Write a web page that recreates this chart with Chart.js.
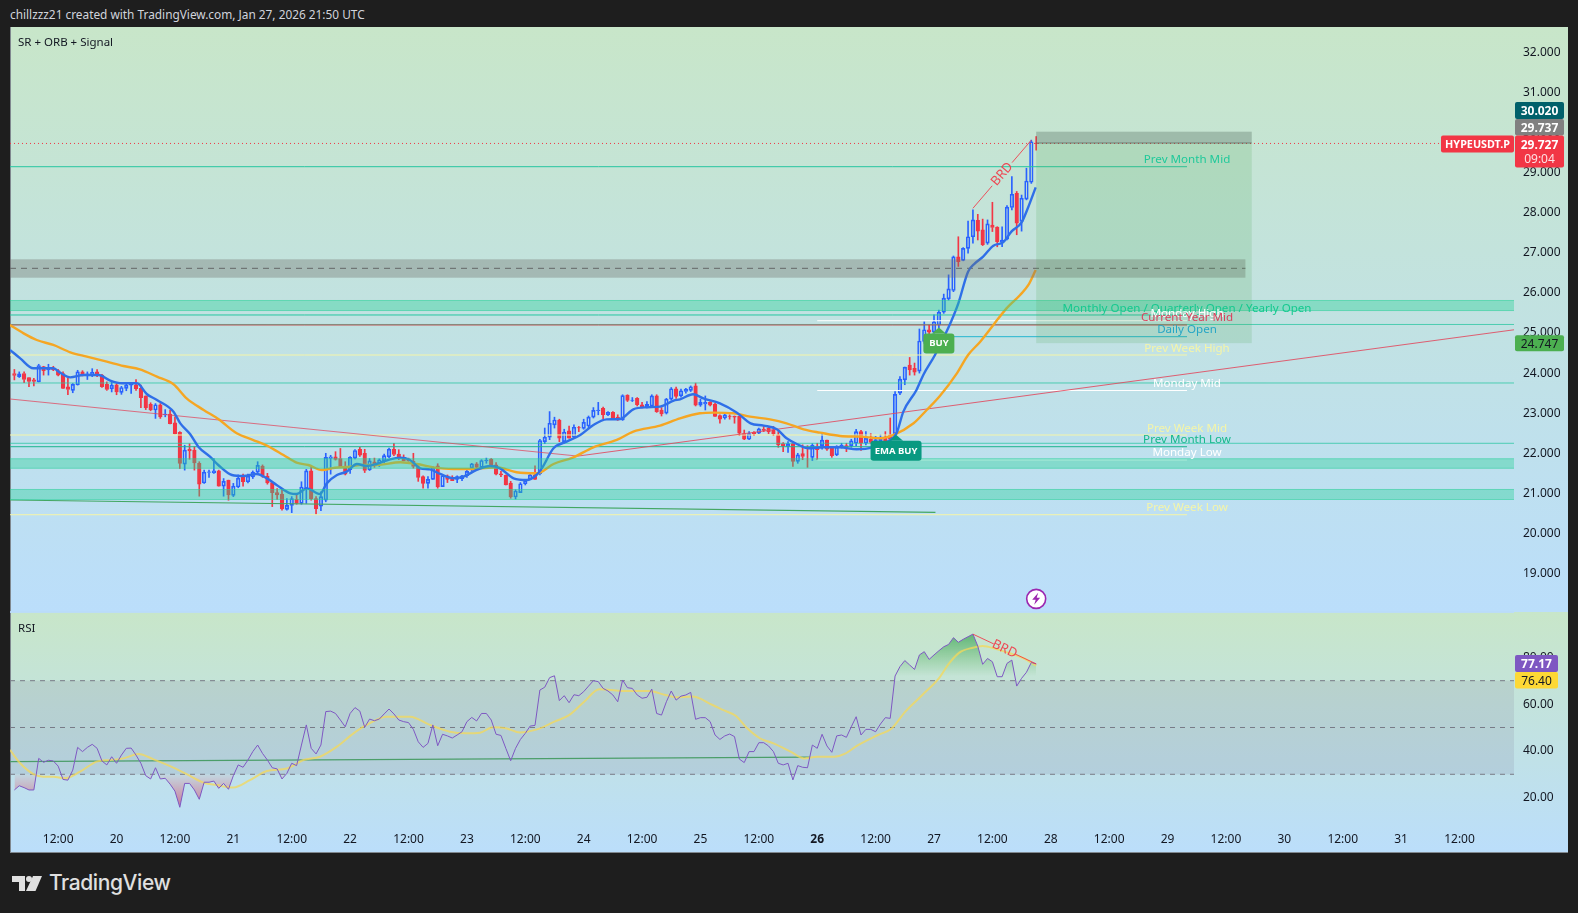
<!DOCTYPE html>
<html>
<head>
<meta charset="utf-8">
<title>HYPEUSDT.P</title>
<script src="https://cdn.jsdelivr.net/npm/chart.js@4"></script>
<style>
  html, body { margin: 0; background: #1e1e1e; overflow: hidden; width: 1578px; height: 913px; }
  #header { position: absolute; left: 10px; top: 6px; font: 11.85px "Noto Sans", sans-serif; color: #d1d4dc; }
  #panel { position: absolute; left: 10px; top: 27px; width: 1558px; height: 826px; background: linear-gradient(#c8e6c9, #bbdefb) 0 0 / 100% 585px no-repeat, linear-gradient(#c8e6c9, #bbdefb) 0 585px / 100% 241px no-repeat; box-shadow: inset 1px 0 #80888f, inset 0 -1px #80888f; }
  #myChart { position: absolute; left: 0; top: 0; }
  #logo { position: absolute; left: 12px; top: 871px; display: flex; align-items: center; color: #e0e0e0; }
  #logo span { font: 500 21px Inter, sans-serif; margin-left: 7px; letter-spacing: -0.4px; position: relative; top: -1px; }
</style>
</head>
<body>
<div id="header">chillzzz21 created with TradingView.com, Jan 27, 2026 21:50 UTC</div>
<div id="panel"><canvas id="myChart" width="1558" height="826"></canvas></div>
<div id="logo">
  <svg width="30" height="15" viewBox="0 0 30 15" fill="#e0e0e0"><path d="M0 0H13V15H7V6H0Z"/><circle cx="17" cy="3" r="3"/><path d="M21 0H30L23.5 15H14Z"/></svg>
  <span>TradingView</span>
</div>
<script>
// hourly candles, hour 0 = Jan 20 00:00 UTC
const firstHour = -21;
const opens = [
  23.99,23.91,23.99,23.89,23.83,23.78,24.16,24.08,24.13,24.06,
  23.99,23.66,23.57,23.71,24.03,23.93,23.97,24.03,23.95,23.72,
  23.61,23.71,23.52,23.62,23.70,23.70,23.62,23.43,23.22,23.08,
  23.21,22.96,22.98,22.76,22.52,21.73,22.10,22.08,21.75,21.26,
  21.52,21.51,21.56,21.18,21.33,20.95,21.16,21.41,21.29,21.41,
  21.53,21.68,21.43,21.27,21.02,20.98,20.60,20.70,20.85,20.75,
  21.12,21.56,20.87,20.68,20.83,21.87,21.91,21.87,21.66,21.59,
  21.88,22.10,22.00,21.59,21.79,21.75,21.81,21.91,22.10,21.98,
  21.89,21.86,21.80,21.67,21.42,21.25,21.35,21.69,21.17,21.44,
  21.40,21.35,21.37,21.44,21.63,21.74,21.65,21.81,21.85,21.71,
  21.49,21.45,21.26,20.91,21.02,21.24,21.35,21.46,21.49,22.29,
  22.40,22.71,22.83,22.29,22.56,22.40,22.64,22.62,22.68,22.90,
  23.06,23.12,22.96,23.02,22.90,22.83,23.45,23.32,23.37,23.21,
  23.15,23.18,23.43,23.08,23.00,23.35,23.61,23.43,23.54,23.57,
  23.68,23.20,23.23,23.27,23.22,22.94,22.88,22.93,22.92,22.92,
  22.49,22.35,22.52,22.50,22.60,22.62,22.58,22.46,22.24,22.17,
  22.24,21.80,21.99,22.15,21.90,22.15,22.19,22.33,22.13,21.96,
  22.19,22.19,22.19,22.25,22.54,22.25,22.35,22.27,22.31,22.38,
  22.46,22.49,23.50,23.83,24.20,24.12,24.05,24.79,25.08,25.02,
  25.20,25.52,25.85,26.06,26.90,26.81,27.11,27.40,27.81,27.57,
  27.24,27.69,27.64,27.26,27.34,28.13,28.48,27.78,28.34,28.76,29.737
];
const highs = [
  24.09,24.03,24.03,23.89,23.87,24.22,24.17,24.22,24.17,24.09,
  24.03,23.87,23.74,24.07,24.06,24.03,24.11,24.09,23.97,23.78,
  23.78,23.74,23.67,23.74,23.74,23.84,23.70,23.43,23.26,23.24,
  23.24,23.09,23.08,22.91,22.54,22.20,22.24,22.16,21.79,21.58,
  21.58,21.87,21.58,21.37,21.33,21.25,21.46,21.48,21.48,21.56,
  21.79,21.71,21.50,21.29,21.12,21.10,20.87,20.92,21.00,21.29,
  21.60,21.66,20.92,21.04,22.00,21.95,22.04,22.12,21.79,21.92,
  22.09,22.15,22.10,21.87,21.88,21.86,21.98,22.13,22.25,22.09,
  21.96,21.88,22.00,21.69,21.44,21.42,21.67,21.74,21.46,21.46,
  21.44,21.44,21.45,21.59,21.75,21.77,21.84,21.88,21.87,21.77,
  21.55,21.46,21.30,21.09,21.27,21.35,21.49,21.69,22.35,22.63,
  23.04,22.90,22.85,22.60,22.68,22.71,22.67,22.85,22.93,23.14,
  23.27,23.15,23.04,23.04,22.96,23.46,23.46,23.39,23.39,23.27,
  23.29,23.46,23.46,23.14,23.37,23.64,23.65,23.60,23.62,23.68,
  23.75,23.35,23.43,23.29,23.25,22.96,22.98,22.96,22.93,22.93,
  22.58,22.54,22.54,22.63,22.67,22.67,22.67,22.54,22.27,22.29,
  22.25,22.00,22.21,22.19,22.24,22.25,22.49,22.33,22.15,22.19,
  22.25,22.25,22.35,22.60,22.57,22.54,22.49,22.42,22.46,22.54,
  22.88,23.54,23.91,24.15,24.39,24.25,25.10,25.28,25.20,25.45,
  25.57,25.97,26.45,26.92,27.40,27.13,27.79,28.07,27.96,27.84,
  27.82,28.26,27.65,27.65,28.18,28.90,28.53,28.44,29.11,29.81,29.90
];
const lows = [
  23.83,23.89,23.76,23.66,23.68,23.78,23.95,23.95,24.06,23.93,
  23.62,23.46,23.51,23.70,23.93,23.84,23.91,23.91,23.64,23.57,
  23.53,23.46,23.47,23.56,23.49,23.57,23.14,23.09,23.06,22.87,
  22.87,22.91,22.73,22.48,21.62,21.58,21.85,21.58,20.93,21.25,
  21.40,21.50,21.18,20.93,20.83,20.92,21.14,21.18,21.26,21.37,
  21.50,21.40,21.23,20.67,20.85,20.58,20.58,20.52,20.73,20.73,
  20.75,20.83,20.48,20.57,20.79,21.48,21.83,21.65,21.46,21.50,
  21.86,21.92,21.52,21.57,21.65,21.67,21.77,21.89,21.94,21.84,
  21.81,21.80,21.63,21.30,21.13,21.13,21.35,21.13,21.17,21.27,
  21.32,21.27,21.32,21.40,21.55,21.63,21.63,21.75,21.69,21.46,
  21.42,21.21,20.88,20.86,21.02,21.21,21.34,21.35,21.46,22.24,
  22.34,22.63,22.29,22.25,22.38,22.38,22.54,22.60,22.63,22.88,
  22.96,22.85,22.94,22.85,22.82,22.82,23.29,23.29,23.18,23.13,
  23.13,23.17,23.02,22.93,22.98,23.33,23.37,23.40,23.50,23.54,
  23.18,23.17,23.08,23.18,22.92,22.75,22.85,22.85,22.75,22.44,
  22.34,22.34,22.44,22.49,22.54,22.49,22.44,22.15,22.04,22.02,
  21.67,21.75,21.84,21.65,21.82,21.84,22.10,22.07,21.90,21.94,
  22.13,22.04,22.15,22.19,22.07,22.21,22.25,22.25,22.29,22.29,
  22.34,22.46,23.46,23.71,23.95,23.95,24.00,24.74,24.95,24.99,
  25.12,25.49,25.82,26.03,26.66,26.80,26.99,27.24,27.32,27.18,
  27.21,27.53,27.15,27.15,27.32,28.07,27.45,27.54,28.32,28.73,29.56
];
const closes = [
  23.94,23.98,23.84,23.79,23.79,24.19,24.06,24.13,24.08,23.95,
  23.62,23.59,23.72,24.03,23.93,23.98,24.02,23.95,23.66,23.59,
  23.70,23.53,23.64,23.70,23.72,23.61,23.39,23.14,23.08,23.21,
  22.91,22.98,22.74,22.49,21.75,22.08,22.06,21.76,21.23,21.53,
  21.54,21.56,21.18,21.30,20.96,21.18,21.38,21.29,21.43,21.53,
  21.70,21.43,21.26,21.02,20.96,20.61,20.70,20.87,20.75,21.16,
  21.56,20.87,20.62,20.92,21.90,21.91,21.85,21.66,21.48,21.90,
  22.07,21.95,21.57,21.81,21.71,21.84,21.94,22.10,21.97,21.87,
  21.81,21.81,21.67,21.40,21.25,21.35,21.65,21.16,21.44,21.35,
  21.32,21.42,21.44,21.55,21.74,21.65,21.82,21.83,21.71,21.48,
  21.46,21.21,20.91,21.06,21.24,21.32,21.46,21.35,22.32,22.40,
  22.75,22.83,22.38,22.53,22.38,22.65,22.63,22.77,22.90,23.07,
  23.08,22.96,23.02,22.88,22.83,23.44,23.32,23.33,23.21,23.14,
  23.22,23.43,23.04,22.98,23.35,23.61,23.42,23.56,23.60,23.66,
  23.20,23.27,23.27,23.20,22.92,22.85,22.96,22.92,22.90,22.50,
  22.35,22.49,22.49,22.61,22.57,22.54,22.49,22.21,22.19,22.24,
  21.80,21.96,21.92,22.13,22.20,22.09,22.33,22.10,21.94,22.15,
  22.20,22.15,22.31,22.54,22.25,22.37,22.27,22.34,22.38,22.31,
  22.35,23.47,23.85,24.15,24.08,24.02,24.80,25.08,25.02,25.28,
  25.52,25.87,26.10,26.90,26.78,27.11,27.40,27.82,27.54,27.20,
  27.72,27.63,27.28,27.32,28.14,28.46,27.74,28.36,28.79,29.77,29.727
];

const fastEmaHours = [-21.9,-19.8,-17.1,-13,-11.6,-9.5,-6.8,-3.7,-1.3,1.1,4.2,6.2,8.3,11.7,13.1,15.1,16.8,19.2,20.9,23.7,26.1,28.8,30.9,32.9,35.7,37,39.1,41.8,43.2,45.3,47.3,49.4,51.4,53.4,56.2,58.3,60.3,62.4,64.4,66.5,69.2,71.3,74,76.8,78.8,81.6,84.3,86.3,87.4,89.8,92.5,95.3,98,100.7,103.5,106.2,109,111.7,114.5,115.8,118.5,120.6,124,127.5,130.3,133,135.7,137.7,139.8,142.2,145.3,148.7,152.1,155.5,159,160.3,161.7,164.4,165.8,168.2,170.9,173,175,176.4,178.1,180.2,182.2,183.9,186,187.4,188.9];
const fastEmaValues = [24.576,24.368,24.119,24.119,24.011,23.894,23.952,23.952,23.811,23.745,23.745,23.479,23.329,23.038,22.747,22.481,22.165,21.916,21.708,21.459,21.434,21.483,21.375,21.21,21.0,20.983,21.126,20.983,21.25,21.458,21.542,21.733,21.684,21.733,21.85,21.891,21.833,21.625,21.6,21.484,21.376,21.418,21.584,21.684,21.625,21.376,21.334,21.459,21.625,22.124,22.29,22.457,22.706,22.847,22.856,23.097,23.147,23.163,23.313,23.346,23.471,23.371,23.246,23.013,22.748,22.69,22.598,22.374,22.232,22.124,22.149,22.149,22.099,22.149,22.332,22.498,23.039,23.579,23.953,24.451,25.116,25.74,26.529,26.737,26.904,27.178,27.261,27.527,27.76,28.15,28.632];
const slowEmaHours = [-21.9,-19.1,-16.4,-13,-9.5,-6.1,-2,1.4,4.8,8.3,11.7,14.4,17.9,20.9,24.7,28.1,30.9,34.3,37,39.4,42.2,44.9,48,50,53.5,58.3,61.7,65.1,69.2,73.3,78.1,82.2,86.4,89.8,93.9,98,102.8,106.2,111.7,115.8,119.9,122.7,126.8,130.2,134.3,137.7,141.2,144.6,148.7,152.8,157,159.7,163.8,166.5,169.2,172.7,175,177.5,180.2,182.9,185.7,187.4,188.9];
const slowEmaValues = [25.199,24.991,24.825,24.701,24.518,24.41,24.285,24.177,24.094,23.911,23.72,23.37,23.08,22.855,22.498,22.331,22.19,21.957,21.766,21.708,21.583,21.641,21.665,21.709,21.709,21.775,21.733,21.65,21.609,21.609,21.65,21.526,21.501,21.733,21.9,22.149,22.332,22.542,22.69,22.871,22.997,23.014,22.997,22.914,22.847,22.748,22.598,22.515,22.432,22.415,22.374,22.457,22.748,23.08,23.429,23.994,24.451,24.784,25.2,25.615,25.948,26.197,26.571];

// one value per candle
const rsiValues = [
  23.3,25.1,24.3,23.3,23.3,36.8,35.1,36.0,35.7,33.5,27.8,27.5,31.8,41.5,39.7,41.5,42.8,41.1,35.7,34.0,
  37.5,34.7,38.2,41.1,41.2,38.2,34.7,29.4,28.0,32.8,28.0,28.3,25.8,22.8,15.9,26.1,26.1,23.3,19.3,26.6,
  26.6,27.1,24.0,26.1,23.6,29.4,34.0,33.0,36.1,39.7,42.5,38.9,36.1,32.8,32.3,28.0,30.4,34.7,33.7,42.5,
  51.1,41.1,38.7,42.5,56.8,57.0,56.0,53.2,50.3,56.0,58.5,57.0,50.1,53.6,52.9,53.6,55.8,57.9,55.8,53.2,
  52.5,52.1,49.2,43.9,41.5,43.2,51.1,42.2,47.1,46.4,45.5,46.8,48.2,52.5,54.3,52.8,56.0,56.0,53.2,47.1,
  46.6,41.1,35.8,41.1,44.9,47.5,50.6,50.9,66.0,67.2,71.3,72.1,61.5,63.6,60.6,64.0,63.6,65.3,67.7,70.0,
  69.6,66.7,65.6,63.9,61.0,70.3,67.0,66.7,63.9,62.5,62.9,66.4,56.0,55.3,61.0,65.6,61.7,63.4,63.9,65.0,
  53.5,54.2,54.2,52.5,46.8,44.9,46.4,47.2,46.1,36.5,35.0,39.7,39.7,43.5,43.5,42.1,39.7,34.7,34.0,34.7,
  27.6,33.7,33.0,32.8,42.5,41.1,47.1,42.1,39.4,46.4,46.8,45.8,50.3,54.6,46.8,49.2,49.2,48.2,51.5,54.2,
  53.9,72.0,76.0,78.6,76.7,74.8,81.0,82.4,79.1,81.0,82.8,84.5,85.5,88.4,86.4,87.7,88.8,89.9,84.8,77.0,
  79.5,78.1,71.7,71.7,77.4,78.8,67.7,71.0,73.6,77.8,77.17
];
const rsiMaHours = [-21.9,-19.8,-17.1,-15,-13,-10.6,-7.5,-4.1,-1.3,1.4,4.5,7.6,11,14.4,17.9,20.6,24,27.4,30.9,35,38.4,41.8,45.3,48.7,51.4,55.5,60.3,64.4,68.5,71.9,74.7,77.4,80.2,82.9,86.4,90,93,96.1,99.2,101.7,104.4,109.3,112.8,114.9,118.3,122.5,124.6,127.3,129.4,132.2,135,138.5,141.3,144,147.5,149.6,152.4,156.5,159.3,162.1,165.6,169,171.1,173.2,176,178,180.8,183.6,186.4,189];
const rsiMaValues = [40.4,34.7,30.1,29.0,29.0,28.3,31.1,35.4,36.1,36.8,38.7,36.4,33.5,30.1,26.4,25.4,24.4,27.5,31.4,32.5,36.1,37.5,41.8,47.5,51.1,54.6,54.6,51.1,48.2,47.5,47.8,50.1,49.6,47.9,49.2,52.5,55.3,61.0,66.3,66.0,65.6,65.6,63.9,62.9,63.2,59.6,57.5,54.9,50.1,45.4,43.2,39.7,36.8,37.5,37.5,38.7,42.5,46.8,49.6,56.8,63.9,71.0,77.4,82.0,84.1,84.8,83.5,81.7,79.6,76.4];
const rsiLevels = [70, 50, 30];

const levelNames = ['Prev Month Mid','Monthly Open / Quarterly Open / Yearly Open','Monday High','Current Year Mid','Daily Open','Prev Week High','Monday Mid','Prev Week Mid','Prev Month Low','Monday Low','Prev Week Low'];
const levelValues = [29.147,25.449,25.306,25.2,24.908,24.451,23.566,22.456,22.164,21.833,20.468];
const levelStartHours = [-21.9,-21.9,144,-21.9,168,-21.9,144,-21.9,-21.9,144,-21.9];
const levelEndHour = 220;
const fullWidthLevels = [25.212,23.753,22.249];
const zoneLows = [25.548,21.616,20.835];
const zoneHighs = [25.823,21.875,21.110];
const greyZone = [26.379,26.613,26.838];
const greyZoneEndHour = 232;

const trendDownHours = [-21.9,94.8];
const trendDownValues = [23.354,21.93];
const trendUpHours = [94.8,287.2];
const trendUpValues = [21.93,25.08];
const supportHours = [-21.9,168.3];
const supportValues = [20.835,20.528];
const rsiSupportHours = [-21.9,142.5];
const rsiSupportValues = [35.4,37.3];

const longBoxHours = [189,233.3];
const longBoxValues = [30.020,29.737,24.747];
const lastPrice = 29.727;

// BRD divergence ends, BUY marks, alert mark
const brdHours = [176,188];
const brdPrices = [28.11,29.81];
const brdRsiHours = [176,189];
const brdRsiValues = [89.9,77.17];
const buyHour = 169, buyValue = 25.14;
const emaBuyHour = 160.2, emaBuyValue = 22.46;
const alertHour = 189, alertValue = 18.37;

const levelColors = ['#1fc99a','#14c98f','#ffffff','#d9405c','#26a6c6','#f5f5a8','#ffffff','#f5f5a8','#14b88c','#ffffff','#f5f5a8'];
const lineColors = ['#26c6a0','#26c6a0','#ffffff','#c2484a','#26b6d0','#f5f5a8','#ffffff','#f5f5a8','#1db48f','#ffffff','#f5f5a8'];
const red = '#f23645', blue = '#2962ff';

const hours = opens.map((_, i) => firstHour + i);
const isUp = opens.map((o, i) => closes[i] >= o);
const path = (xs, ys) => xs.map((x, i) => ({ x, y: ys[i] }));
const flat = (a, b, v) => [{ x: a, y: v }, { x: b, y: v }];
const rsiPoints = hours.map((h, i) => ({ x: h, y: rsiValues[i] }));

function lineSet(data, color, width, extra) {
  return Object.assign({ type: 'line', data, borderColor: color, borderWidth: width, pointRadius: 0, order: 5, yAxisID: 'y' }, extra);
}
function barSet(data, extra) {
  return Object.assign({ type: 'bar', data, grouped: false, borderSkipped: false, order: 20, yAxisID: 'y' }, extra);
}

const datasets = [
  barSet(hours.map((h, i) => ({ x: h, y: [Math.max(opens[i], closes[i]), highs[i]] })), { barThickness: 1, backgroundColor: hours.map((_, i) => isUp[i] ? blue : red) }),
  barSet(hours.map((h, i) => ({ x: h, y: [lows[i], Math.min(opens[i], closes[i])] })), { barThickness: 1, backgroundColor: hours.map((_, i) => isUp[i] ? blue : red) }),
  barSet(hours.map((h, i) => ({ x: h, y: [opens[i], closes[i]] })), {
    barThickness: 3.6, borderWidth: 1,
    backgroundColor: hours.map((_, i) => isUp[i] ? 'rgba(0,0,0,0)' : red),
    borderColor: hours.map((_, i) => isUp[i] ? blue : red)
  }),
  lineSet(path(fastEmaHours, fastEmaValues), '#2f6fe8', 2.4, { cubicInterpolationMode: 'monotone', order: 3 }),
  lineSet(path(slowEmaHours, slowEmaValues), '#f5a623', 2.4, { cubicInterpolationMode: 'monotone', order: 3 }),
  lineSet(path(trendDownHours, trendDownValues), 'rgba(226,70,92,0.75)', 1),
  lineSet(path(trendUpHours, trendUpValues), 'rgba(226,70,92,0.85)', 1),
  lineSet(path(supportHours, supportValues), '#43a763', 1.2),
  lineSet(flat(firstHour - 0.9, 287.2, lastPrice), red, 1, { borderDash: [1, 3] }),
  lineSet(flat(firstHour - 0.9, greyZoneEndHour, greyZone[1]), '#5f6468', 1, { borderDash: [6, 5] })
];
levelValues.forEach((v, i) => datasets.push(lineSet(flat(levelStartHours[i], levelEndHour, v), lineColors[i], 1)));
fullWidthLevels.forEach(v => datasets.push(lineSet(flat(-21.9, 287.2, v), 'rgba(38,198,160,0.75)', 1, { order: 6 })));

// RSI pane
rsiLevels.forEach(v => datasets.push(lineSet(flat(-21.9, 287.2, v), '#787b86', 1, { yAxisID: 'rsi', borderDash: [5, 5] })));
const overbought = lineSet(rsiPoints, 'rgba(0,0,0,0)', 0, { yAxisID: 'rsi', fill: { target: { value: 70 }, above: 'rgba(76,175,80,0.5)', below: 'rgba(0,0,0,0)' }, order: 9 });
const oversold = lineSet(rsiPoints, 'rgba(0,0,0,0)', 0, { yAxisID: 'rsi', fill: { target: { value: 30 }, above: 'rgba(0,0,0,0)', below: 'rgba(242,54,69,0.35)' }, order: 9 });
datasets.push(overbought, oversold);
datasets.push(lineSet(path(rsiMaHours, rsiMaValues), 'rgba(244,216,88,0.75)', 2, { yAxisID: 'rsi', cubicInterpolationMode: 'monotone', order: 2 }));
datasets.push(lineSet(rsiPoints, '#7e57c2', 1, { yAxisID: 'rsi', order: 1 }));
datasets.push(lineSet(path(rsiSupportHours, rsiSupportValues), '#4b9e6a', 1.2, { yAxisID: 'rsi', order: 3 }));

const FONT = '"Noto Sans", sans-serif';

function splitLine(ctx, x0, y0, x1, y1, label, fontSize) {
  const mx = (x0 + x1) / 2, my = (y0 + y1) / 2, gap = 0.17;
  ctx.strokeStyle = 'rgba(242,54,69,0.85)';
  ctx.lineWidth = 1;
  ctx.beginPath();
  ctx.moveTo(x0, y0);
  ctx.lineTo(mx - (x1 - x0) * gap, my - (y1 - y0) * gap);
  ctx.moveTo(mx + (x1 - x0) * gap, my + (y1 - y0) * gap);
  ctx.lineTo(x1, y1);
  ctx.stroke();
  ctx.save();
  ctx.translate(mx, my);
  ctx.rotate(Math.atan2(y1 - y0, x1 - x0));
  ctx.fillStyle = 'rgba(242,54,69,0.9)';
  ctx.font = fontSize + 'px ' + FONT;
  ctx.textAlign = 'center';
  ctx.textBaseline = 'middle';
  ctx.fillText(label, 0, 0);
  ctx.restore();
}

function bubble(ctx, cx, top, w, h, color, text) {
  // up-arrow flag: tip at top, rounded box below
  ctx.fillStyle = color;
  ctx.beginPath();
  ctx.moveTo(cx, top);
  ctx.lineTo(cx + 7, top + 6);
  ctx.lineTo(cx - 7, top + 6);
  ctx.closePath();
  ctx.fill();
  ctx.beginPath();
  ctx.roundRect(cx - w / 2, top + 6, w, h, 3);
  ctx.fill();
  ctx.fillStyle = '#ffffff';
  ctx.font = 'bold 9.5px ' + FONT;
  ctx.textAlign = 'center';
  ctx.textBaseline = 'middle';
  ctx.fillText(text, cx, top + 6 + h / 2);
}

function tag(ctx, text, bg, fg, left, top, w, h, font) {
  ctx.fillStyle = bg;
  ctx.beginPath();
  ctx.roundRect(left, top, w, h, 2);
  ctx.fill();
  ctx.fillStyle = fg;
  ctx.font = (font || '12px') + ' ' + FONT;
  ctx.textAlign = 'center';
  ctx.textBaseline = 'middle';
  ctx.fillText(text, left + w / 2, top + h / 2 + 1);
}

const overlays = {
  id: 'overlays',
  afterLayout(chart) {
    const c = chart.ctx, r = chart.scales.rsi;
    const g = c.createLinearGradient(0, r.getPixelForValue(90), 0, r.getPixelForValue(72));
    g.addColorStop(0, 'rgba(60,165,90,0.75)');
    g.addColorStop(1, 'rgba(76,175,80,0)');
    overbought.fill.above = g;
    const b = c.createLinearGradient(0, r.getPixelForValue(30), 0, r.getPixelForValue(15));
    b.addColorStop(0, 'rgba(242,54,69,0.05)');
    b.addColorStop(1, 'rgba(200,40,90,0.6)');
    oversold.fill.below = b;
  },
  beforeDatasetsDraw(chart) {
    const { ctx, scales: { rsi } } = chart;
    const a = chart.chartArea;
    ctx.fillStyle = 'rgba(95,85,120,0.12)';
    const t = rsi.getPixelForValue(70), b = rsi.getPixelForValue(30);
    ctx.fillRect(a.left, t, a.right - a.left, b - t);
    // pane separator
    const sep = rsi.top;
    ctx.fillStyle = 'rgba(186,220,250,0.9)';
    ctx.fillRect(a.left, sep - 1, a.right - a.left, 2);
  },
  afterDatasetsDraw(chart) {
    const { ctx, scales: { x, y } } = chart;
    const a = chart.chartArea;
    ctx.save();
    ctx.fillStyle = 'rgba(38,208,150,0.38)';
    zoneLows.forEach((lo, i) => {
      const t = y.getPixelForValue(zoneHighs[i]), b = y.getPixelForValue(lo);
      ctx.fillRect(a.left, t, a.right - a.left, b - t);
      ctx.fillRect(a.left, t, a.right - a.left, 1);
      ctx.fillRect(a.left, b - 1, a.right - a.left, 1);
    });
    const gt = y.getPixelForValue(greyZone[2]), gb = y.getPixelForValue(greyZone[0]);
    ctx.fillStyle = 'rgba(110,110,105,0.36)';
    ctx.fillRect(a.left, gt, x.getPixelForValue(greyZoneEndHour) - a.left, gb - gt);
    // long position box
    const bx0 = x.getPixelForValue(longBoxHours[0]), bx1 = x.getPixelForValue(longBoxHours[1]);
    const by0 = y.getPixelForValue(longBoxValues[0]), by1 = y.getPixelForValue(longBoxValues[1]), by2 = y.getPixelForValue(longBoxValues[2]);
    ctx.fillStyle = 'rgba(90,115,100,0.36)';
    ctx.fillRect(bx0, by0, bx1 - bx0, by1 - by0);
    ctx.fillStyle = 'rgba(76,165,85,0.18)';
    ctx.fillRect(bx0, by1, bx1 - bx0, by2 - by1);
    ctx.fillStyle = 'rgba(70,80,75,0.6)';
    ctx.fillRect(bx0, by1 - 0.5, bx1 - bx0, 1);
    ctx.restore();
  },
  afterDraw(chart) {
    const { ctx, scales: { x, y, rsi } } = chart;
    ctx.save();
    // level captions
    ctx.font = '11.6px ' + FONT;
    ctx.textAlign = 'center';
    ctx.textBaseline = 'middle';
    levelNames.forEach((name, i) => {
      ctx.fillStyle = levelColors[i];
      ctx.fillText(name, x.getPixelForValue(levelEndHour), y.getPixelForValue(levelValues[i]) - 6.8);
    });
    // pane titles
    ctx.fillStyle = '#131722';
    ctx.textAlign = 'left';
    ctx.font = '11.5px ' + FONT;
    ctx.fillText('SR + ORB + Signal', 8, 16);
    ctx.fillText('RSI', 8, rsi.top + 17);
    // divergence
    splitLine(ctx, x.getPixelForValue(brdHours[0]), y.getPixelForValue(brdPrices[0]), x.getPixelForValue(brdHours[1]), y.getPixelForValue(brdPrices[1]), 'BRD', 13);
    splitLine(ctx, x.getPixelForValue(brdRsiHours[0]), rsi.getPixelForValue(brdRsiValues[0]), x.getPixelForValue(brdRsiHours[1]), rsi.getPixelForValue(brdRsiValues[1]), 'BRD', 13);
    // signal marks
    bubble(ctx, x.getPixelForValue(buyHour), y.getPixelForValue(buyValue), 31, 20, '#4caf50', 'BUY');
    bubble(ctx, x.getPixelForValue(emaBuyHour), y.getPixelForValue(emaBuyValue), 51, 20, '#089981', 'EMA BUY');
    // alert mark
    const ax = x.getPixelForValue(alertHour), ay = y.getPixelForValue(alertValue);
    ctx.beginPath();
    ctx.arc(ax, ay, 9.5, 0, Math.PI * 2);
    ctx.fillStyle = '#ffffff';
    ctx.fill();
    ctx.lineWidth = 1.6;
    ctx.strokeStyle = '#9c27b0';
    ctx.stroke();
    ctx.fillStyle = '#9c27b0';
    ctx.beginPath();
    ctx.moveTo(ax + 2, ay - 6); ctx.lineTo(ax - 4, ay + 1); ctx.lineTo(ax - 0.5, ay + 1);
    ctx.lineTo(ax - 2, ay + 6); ctx.lineTo(ax + 4, ay - 1); ctx.lineTo(ax + 0.5, ay - 1);
    ctx.closePath();
    ctx.fill();
    // price scale tags
    const L = 1505;
    tag(ctx, longBoxValues[0].toFixed(3), '#00606a', '#ffffff', L, 75, 49, 17, 'bold 12px');
    tag(ctx, longBoxValues[1].toFixed(3), '#808080', '#ffffff', L, 92, 49, 16.5, 'bold 12px');
    ctx.fillStyle = red;
    ctx.beginPath();
    ctx.roundRect(L, 108.5, 49, 32, 2);
    ctx.fill();
    ctx.fillStyle = '#ffffff';
    ctx.font = 'bold 12px ' + FONT;
    ctx.textAlign = 'center';
    ctx.fillText(lastPrice.toFixed(3), L + 24.5, 118.5);
    ctx.fillStyle = 'rgba(255,255,255,0.85)';
    ctx.font = '12px ' + FONT;
    ctx.fillText('09:04', L + 24.5, 132.5);
    tag(ctx, 'HYPEUSDT.P', red, '#ffffff', 1431, 108.5, 73, 17, 'bold 10.8px');
    tag(ctx, longBoxValues[2].toFixed(3), '#4caf50', '#131722', L, y.getPixelForValue(longBoxValues[2]) - 8, 49, 16);
    tag(ctx, rsiValues[rsiValues.length - 1].toFixed(2), '#7e57c2', '#ffffff', L, 628, 43, 17, 'bold 12px');
    tag(ctx, rsiMaValues[rsiMaValues.length - 1].toFixed(2), '#fdd835', '#131722', L, 645, 43, 16.5);
    ctx.restore();
  }
};

// the panes must fill the canvas edge to edge, so drop the label padding of each axis
const fitY = s => { s.width = 54; s.paddingTop = 0; s.paddingBottom = 0; };

const ctx = document.getElementById('myChart');

new Chart(ctx, {
  type: 'bar',
  data: { datasets },
  plugins: [overlays],
  options: {
    responsive: false,
    animation: false,
    layout: { padding: 0, autoPadding: false },
    plugins: { legend: { display: false }, tooltip: { enabled: false } },
    scales: {
      x: {
        type: 'linear', offset: false, min: -21.9, max: 287.2,
        grid: { display: false, drawTicks: false }, border: { display: false },
        afterFit: s => { s.height = 35; s.paddingLeft = 0; s.paddingRight = 0; },
        ticks: {
          stepSize: 12, includeBounds: false, autoSkip: false, maxRotation: 0, padding: 14, color: '#131722',
          font: c => ({ family: FONT, size: 12, weight: c.tick && c.tick.value === 144 ? 'bold' : 'normal' }),
          callback: v => (v % 24 === 0 ? String(20 + v / 24) : '12:00')
        }
      },
      y: {
        type: 'linear', position: 'right', stack: 'panes', stackWeight: 585, min: 18.042, max: 32.631,
        grid: { display: false, drawTicks: false }, border: { display: false },
        afterFit: fitY,
        ticks: { stepSize: 1, includeBounds: false, autoSkip: false, padding: 9, color: '#131722', font: { family: FONT, size: 12 }, callback: v => v.toFixed(3) }
      },
      rsi: {
        type: 'linear', position: 'right', stack: 'panes', stackWeight: 206, min: 11.32, max: 99.36,
        grid: { display: false, drawTicks: false }, border: { display: false },
        afterFit: fitY,
        ticks: { stepSize: 20, includeBounds: false, autoSkip: false, padding: 9, color: '#131722', font: { family: FONT, size: 12 }, callback: v => v.toFixed(2) }
      }
    }
  }
});
</script>
</body>
</html>
